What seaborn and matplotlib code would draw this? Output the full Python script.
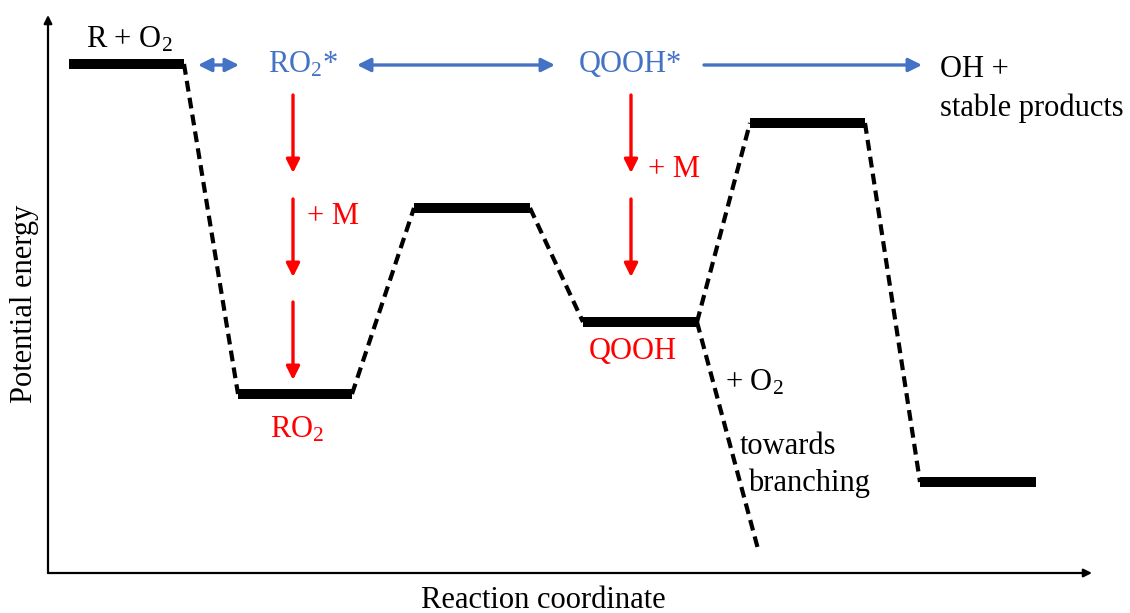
import matplotlib
matplotlib.use("Agg")
import matplotlib.pyplot as plt
import seaborn as sns
import pandas as pd

# ---------------- data ----------------
species = ["R + O2", "RO2", "TS1", "QOOH", "TS2", "OH + products"]
level_start = [0.23, 1.92, 3.68, 5.37, 7.04, 8.74]   # reaction coordinate
level_end = [1.38, 3.06, 4.84, 6.51, 8.19, 9.90]
energy = [0.0, -33.0, -14.4, -25.8, -5.9, -41.8]       # relative energy

branch_from = "QOOH"
branch_end_x = 7.12
branch_end_E = -48.5

# ---------------- build tables ----------------
lev_rows = []
for s, x0, x1, e in zip(species, level_start, level_end, energy):
    lev_rows.append({"level": s, "x": x0, "E": e})
    lev_rows.append({"level": s, "x": x1, "E": e})
levels = pd.DataFrame(lev_rows)

con_rows = []
for i in range(len(species) - 1):
    cid = f"{species[i]}->{species[i+1]}"
    con_rows.append({"link": cid, "x": level_end[i], "E": energy[i]})
    con_rows.append({"link": cid, "x": level_start[i + 1], "E": energy[i + 1]})
bi = species.index(branch_from)
con_rows.append({"link": "branch", "x": level_end[bi], "E": energy[bi]})
con_rows.append({"link": "branch", "x": branch_end_x, "E": branch_end_E})
connectors = pd.DataFrame(con_rows)

# ---------------- style ----------------
sns.set_style("white")
plt.rcParams["font.family"] = ["Liberation Serif", "DejaVu Serif"]
plt.rcParams["mathtext.fontset"] = "custom"
plt.rcParams["mathtext.rm"] = "Liberation Serif"
plt.rcParams["mathtext.it"] = "Liberation Serif:italic"
plt.rcParams["text.color"] = "black"

BLUE = "#4472C4"
RED = "#FF0000"
FS = 22

fig = plt.figure(figsize=(11.30, 6.13), dpi=100)
ax = fig.add_axes([0, 0, 1, 1])
ax.set_xlim(-0.46, 10.84)
ax.set_ylim(-54.9, 6.4)
ax.axis("off")

# dashed connectors
sns.lineplot(data=connectors, x="x", y="E", units="link", estimator=None,
             sort=False, color="black", lw=3, linestyle=(0, (2.6, 1.5)),
             legend=False, ax=ax)
# energy levels
sns.lineplot(data=levels, x="x", y="E", units="level", estimator=None,
             sort=False, color="black", lw=7.2, legend=False, ax=ax,
             solid_capstyle="butt")

# axes arrows
ax.annotate("", xy=(0.02, 4.9), xytext=(0.02, -50.9),
            arrowprops=dict(arrowstyle="-|>", color="black", lw=1.6,
                            mutation_scale=12, shrinkA=0, shrinkB=0))
ax.annotate("", xy=(10.46, -50.9), xytext=(0.02, -50.9),
            arrowprops=dict(arrowstyle="-|>", color="black", lw=1.6,
                            mutation_scale=12, shrinkA=0, shrinkB=0))
ax.text(-0.21, -24.0, "Potential energy", rotation=90, ha="center",
        va="center", fontsize=FS)
ax.text(4.97, -53.6, "Reaction coordinate", ha="center", va="center",
        fontsize=FS)

# blue arrows (excited-state connections)
def arrow(x0, y0, x1, y1, color, style, ms=20):
    ax.annotate("", xy=(x1, y1), xytext=(x0, y0),
                arrowprops=dict(arrowstyle=style, color=color, lw=2.4,
                                mutation_scale=ms, shrinkA=0, shrinkB=0))

arrow(1.52, -0.1, 1.93, -0.1, BLUE, "<|-|>")
arrow(3.11, -0.1, 5.09, -0.1, BLUE, "<|-|>")
arrow(6.58, -0.1, 8.76, -0.1, BLUE, "-|>")

# red stabilisation arrows
for y0, y1 in [(-3.1, -10.9), (-13.5, -21.3), (-23.8, -31.6)]:
    arrow(2.47, y0, 2.47, y1, RED, "-|>")
for y0, y1 in [(-3.1, -10.9), (-13.5, -21.3)]:
    arrow(5.85, y0, 5.85, y1, RED, "-|>")

# labels
ax.text(0.83, 2.4, r"R + O$_2$", ha="center", va="center", fontsize=FS)
ax.text(2.57, -0.1, r"RO$_2$*", ha="center", va="center", fontsize=FS,
        color=BLUE)
ax.text(5.84, -0.1, "QOOH*", ha="center", va="center", fontsize=FS,
        color=BLUE)
ax.text(8.94, -0.6, "OH +", ha="left", va="center", fontsize=FS)
ax.text(8.94, -4.4, "stable products", ha="left", va="center", fontsize=FS)
ax.text(2.61, -15.3, "+ M", ha="left", va="center", fontsize=FS, color=RED)
ax.text(6.02, -10.6, "+ M", ha="left", va="center", fontsize=FS, color=RED)
ax.text(2.51, -36.6, r"RO$_2$", ha="center", va="center", fontsize=FS,
        color=RED)
ax.text(5.87, -28.8, "QOOH", ha="center", va="center", fontsize=FS,
        color=RED)
ax.text(6.79, -31.9, r"+ O$_2$", ha="left", va="center", fontsize=FS)
ax.text(6.94, -38.3, "towards", ha="left", va="center", fontsize=FS)
ax.text(7.02, -41.9, "branching", ha="left", va="center", fontsize=FS)

fig.savefig("out.png", dpi=100)
